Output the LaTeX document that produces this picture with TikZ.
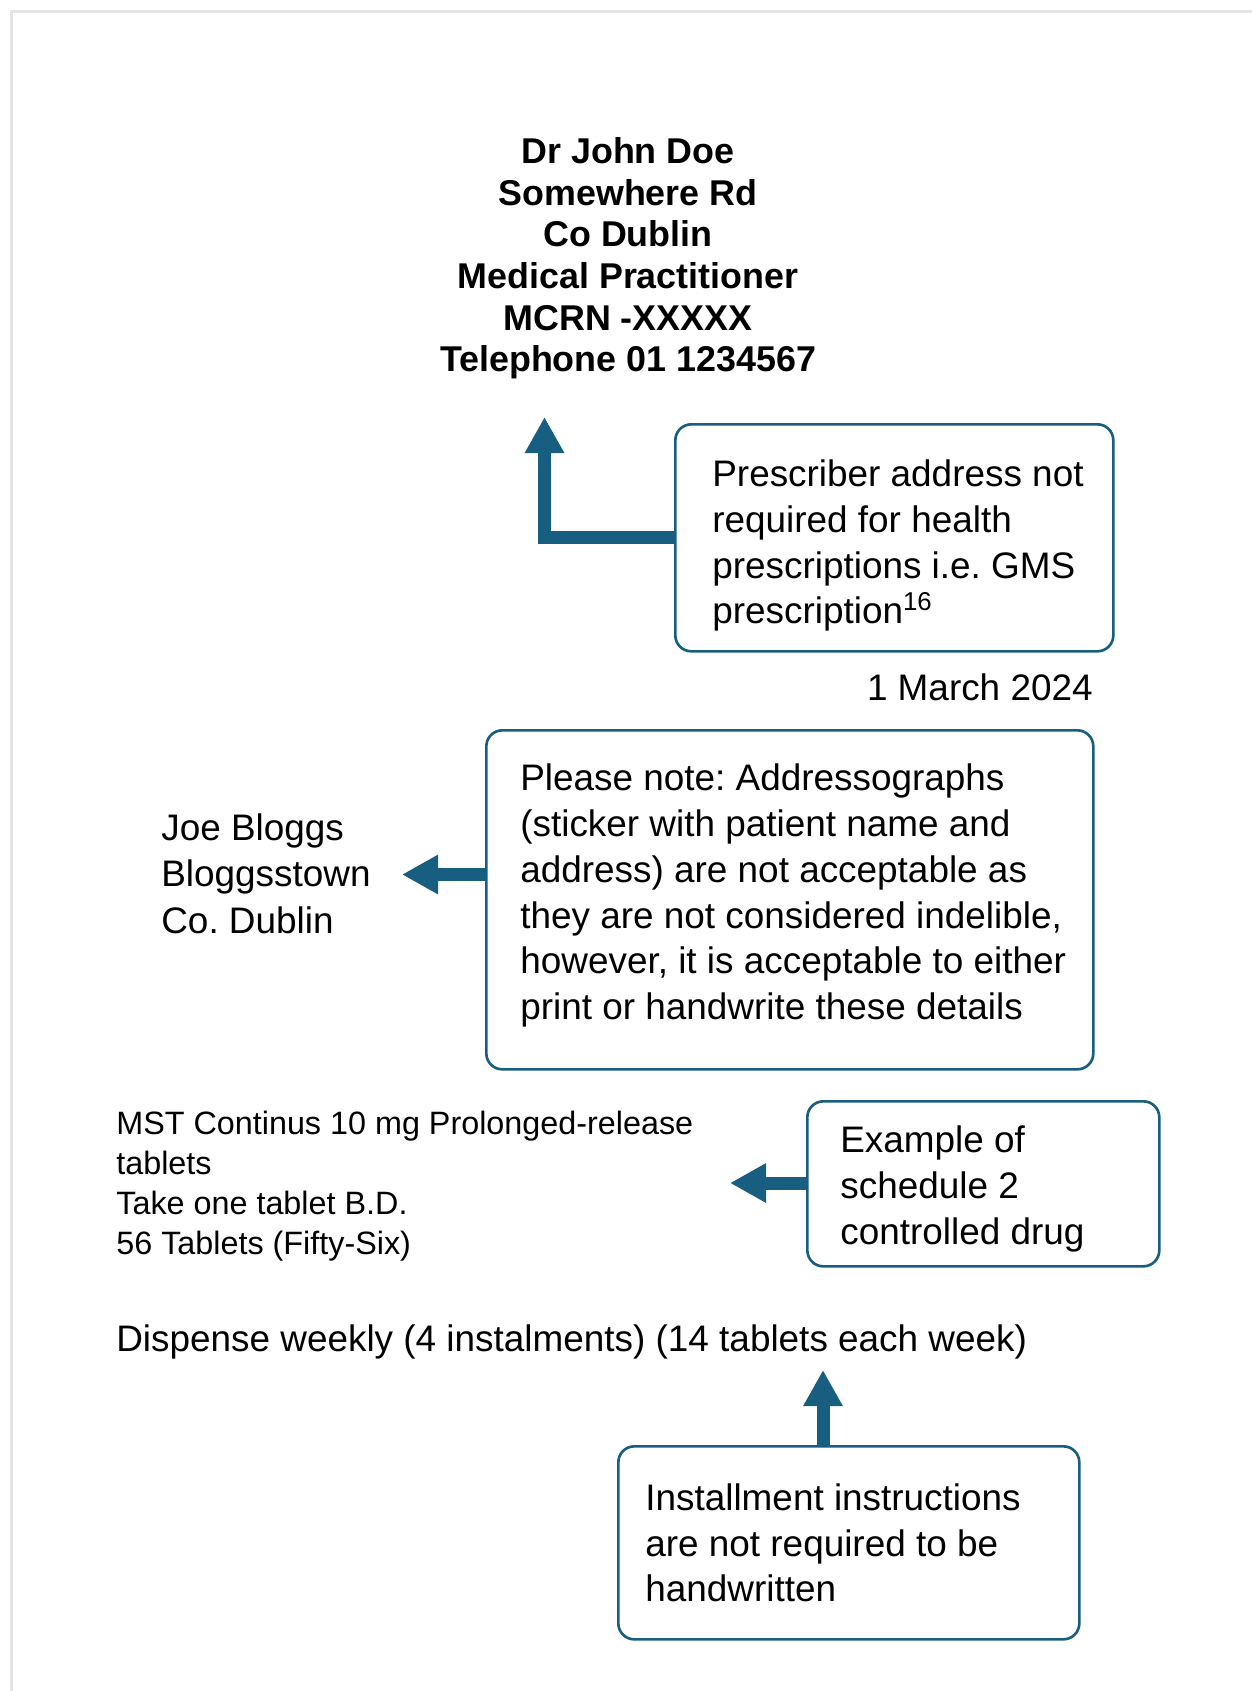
\documentclass[tikz,border=0pt]{standalone}
\usepackage{fontspec}
\setmainfont{Liberation Sans}
\usetikzlibrary{positioning,arrows.meta,calc}
\frenchspacing

\definecolor{calloutblue}{RGB}{24,94,128}
\definecolor{pageedge}{RGB}{229,229,229}

\tikzset{
  notebox/.style={rectangle, rounded corners=0.32cm, draw=calloutblue, line width=1.5pt, anchor=north west},
  notetext/.style={inner sep=0pt, align=left, font=\fontsize{21}{26.1}\selectfont},
  plaintext/.style={inner sep=0pt, align=left, anchor=west},
  callout/.style={draw=calloutblue, line width=0.26cm, -{Triangle[length=0.72cm, width=0.74cm]}},
}

\begin{document}
\begin{tikzpicture}
      \useasboundingbox (0,0) rectangle (25.04,-33.82);
      %\draw[help lines] (0,-34) grid (25,0);

      % page edge
      \draw[pageedge, line width=0.06cm] (0.22,-33.82) -- (0.22,-0.22) -- (25.04,-0.22);

      \node [inner sep=0pt, align=center, font=\bfseries\fontsize{20.4}{23.7}\selectfont] (prescriber) at (12.56,-5.17)
        {Dr John Doe\\Somewhere Rd\\Co Dublin\\Medical Practitioner\\MCRN -XXXXX\\Telephone 01 1234567};

      \node [notebox, minimum width=8.76cm, minimum height=4.54cm] (addressnote) at (13.48,-8.46) {};
      \node [notetext, right=0.76cm of addressnote.west, yshift=-0.155cm] (addresstext)
        {Prescriber address not\\required for health\\prescriptions i.e. GMS\\prescription\textsuperscript{16}};

      \node [plaintext, anchor=east, font=\fontsize{21}{26.1}\selectfont] (date) at (21.86,-13.74) {1 March 2024};

      \node [notebox, minimum width=12.14cm, minimum height=6.78cm] (stickernote) at (9.7,-14.58) {};
      \node [notetext, right=0.7cm of stickernote.west, yshift=0.085cm] (stickertext)
        {Please note: Addressographs\\(sticker with patient name and\\address) are not acceptable as\\they are not considered indelible,\\however, it is acceptable to either\\print or handwrite these details};

      \node [plaintext, font=\fontsize{21}{26.4}\selectfont] (patient) at (3.22,-17.47) {Joe Bloggs\\Bloggsstown\\Co. Dublin};

      \node [plaintext, font=\fontsize{18.4}{22.9}\selectfont] (drug) at (2.32,-23.72)
        {MST Continus 10 mg Prolonged-release\\tablets\\Take one tablet B.D.\\56 Tablets (Fifty-Six)};

      \node [notebox, minimum width=7.04cm, minimum height=3.3cm] (schedulenote) at (16.12,-22) {};
      \node [notetext, right=0.68cm of schedulenote.west, yshift=-0.105cm] (scheduletext)
        {Example of\\schedule 2\\controlled drug};

      \node [plaintext, font=\fontsize{21}{26.1}\selectfont] (dispense) at (2.32,-26.84)
        {Dispense weekly (4 instalments) (14 tablets each week)};

      \node [notebox, minimum width=9.22cm, minimum height=3.86cm] (instalnote) at (12.34,-28.9) {};
      \node [notetext, right=0.56cm of instalnote.west] (instaltext)
        {Installment instructions\\are not required to be\\handwritten};

      % arrow ends
      \coordinate (headtip) at (10.89,-8.34);
      \coordinate (patienttip) at (8.04,-17.49);
      \coordinate (drugtip) at (14.6,-23.66);
      \coordinate (dispensetip) at (16.46,-27.4);

      \draw[callout] (addressnote.west) -| (headtip);
      \draw[callout] (stickernote.west |- patienttip) -- (patienttip);
      \draw[callout] (schedulenote.west |- drugtip) -- (drugtip);
      \draw[callout] (instalnote.north -| dispensetip) -- (dispensetip);

    \end{tikzpicture}
\end{document}
